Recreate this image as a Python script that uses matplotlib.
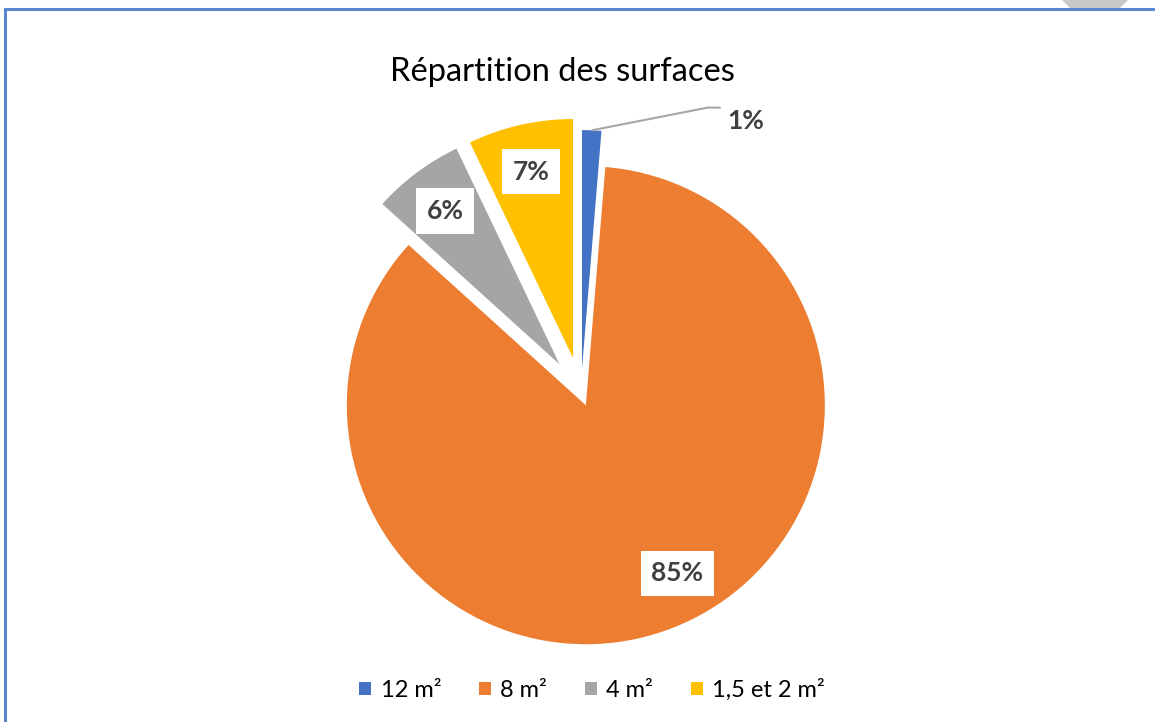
import numpy as np
import matplotlib
matplotlib.use("Agg")
import matplotlib.pyplot as plt
from matplotlib.patches import Polygon

# ---- data ----
categories = ["12 m²", "8 m²", "4 m²", "1,5 et 2 m²"]
values = [1.3, 85.4, 6.2, 7.1]
pct_labels = ["1%", "85%", "6%", "7%"]
colors = ["#4472C4", "#ED7D31", "#A5A5A5", "#FFC000"]
explode = [0.10, 0.055, 0.15, 0.15]
title = "Répartition des surfaces"

W, H = 1155, 722
fig = plt.figure(figsize=(W / 100, H / 100), dpi=100)
fig.patch.set_facecolor("white")

# pie axes: centre at (581, 393) px, radius 239 px
cx, cy, R, half = 581, 393, 239, 300
ax = fig.add_axes([(cx - half) / W, (H - cy - half) / H, 2 * half / W, 2 * half / H])
wedges, _ = ax.pie(values, colors=colors, explode=explode, startangle=90,
                   counterclock=False, radius=1.0,
                   wedgeprops=dict(linewidth=0))
lim = half / R
ax.set_xlim(-lim, lim)
ax.set_ylim(-lim, lim)
ax.set_aspect("equal")
ax.axis("off")

label_font = dict(family=["Lato", "DejaVu Sans"], fontsize=19, fontweight="bold",
                  color="#404040")
box = dict(boxstyle="square,pad=0.4", facecolor="white", edgecolor="none")
angle_shift = [0, 7, 0, 0]
dist = [1.0, 0.80, 0.80, 0.80]

for i, w in enumerate(wedges):
    ang = np.deg2rad((w.theta1 + w.theta2) / 2 + angle_shift[i])
    x0, y0 = w.center
    if i == 0:
        # outside label with leader line
        sx, sy = x0 + np.cos(ang), y0 + np.sin(ang)
        tx, ty = sx + 0.565, sy + 0.04
        ax.plot([sx, tx - 0.08, tx - 0.025], [sy, ty + 0.055, ty + 0.055],
                color="#A6A6A6", lw=1.5, solid_capstyle="butt")
        ax.text(tx, ty, pct_labels[i], ha="left", va="center", **label_font)
    else:
        d = dist[i]
        ax.text(x0 + np.cos(ang) * d, y0 + np.sin(ang) * d, pct_labels[i],
                ha="center", va="center", bbox=box, **label_font)

fig.text(562 / W, 1 - 72 / H, title, ha="center", va="center",
         family=["Lato", "DejaVu Sans"], fontsize=23.5, color="black")

leg = fig.legend(wedges, categories, loc="center", bbox_to_anchor=(592 / W, 1 - 690 / H),
                 ncol=4, frameon=False, handlelength=0.5, handleheight=0.5,
                 handletextpad=0.4, columnspacing=1.6,
                 prop=dict(family=["Lato", "DejaVu Sans"], size=17))

# chart frame (top and left edges visible)
fig.add_artist(plt.Line2D([5 / W, 1], [1 - 9 / H, 1 - 9 / H], color="#5B87CF", lw=2.2))
fig.add_artist(plt.Line2D([5 / W, 5 / W], [0, 1 - 9 / H], color="#5B87CF", lw=2.2))

# watermark fragment top right
fig.add_artist(Polygon([[1062 / W, 1], [1128 / W, 1], [1120 / W, 1 - 8 / H], [1070 / W, 1 - 8 / H]],
                       closed=True, transform=fig.transFigure, facecolor="#C8C8C8",
                       edgecolor="none"))

fig.savefig("out.png", dpi=100, facecolor="white")
